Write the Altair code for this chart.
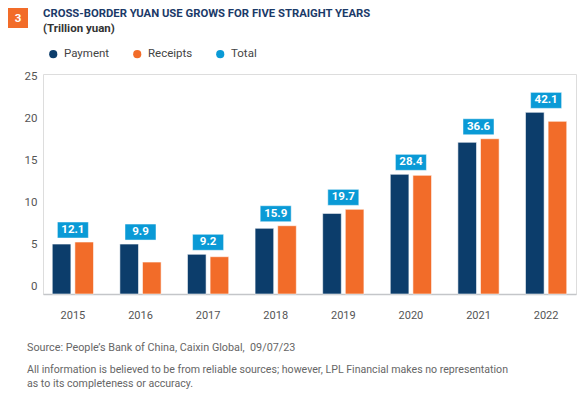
import altair as alt
import pandas as pd

years = ["2015", "2016", "2017", "2018", "2019", "2020", "2021", "2022"]
payment = [5.95, 5.95, 4.73, 7.82, 9.6, 14.25, 18.06, 21.63]
receipts = [6.19, 3.8, 4.44, 8.13, 10.08, 14.13, 18.49, 20.56]
totals = [12.1, 9.9, 9.2, 15.9, 19.7, 28.4, 36.6, 42.1]
series_names = ["Payment", "Receipts", "Total"]
series_colors = ["#0c3d6b", "#f26c29", "#0a9ad6"]
y_ticks = [0, 5, 10, 15, 20, 25]

title_text = "CROSS-BORDER YUAN USE GROWS FOR FIVE STRAIGHT YEARS"
subtitle_text = "(Trillion yuan)"
source_text = "Source: People\u2019s Bank of China, Caixin Global, \u00a009/07/23"
footer_lines = [
    "All information is believed to be from reliable sources; however, LPL Financial makes no representation",
    "as to its completeness or accuracy.",
]
badge_text = "3"

FONT = "Roboto"

rows = []
for i, yr in enumerate(years):
    rows.append({"year": yr, "series": "Payment", "value": payment[i]})
    rows.append({"year": yr, "series": "Receipts", "value": receipts[i]})
df = pd.DataFrame(rows)

df_tot = pd.DataFrame({
    "year": years,
    "total": totals,
    "top": [max(p, r) for p, r in zip(payment, receipts)],
    "series": ["Total"] * len(years),
})

color_scale = alt.Scale(domain=series_names, range=series_colors)

x_enc = alt.X(
    "year:N",
    sort=years,
    scale=alt.Scale(paddingInner=0.39, paddingOuter=0.137),
    axis=alt.Axis(title=None, labelAngle=0, domain=True, domainColor="#c4c6c9",
                  domainWidth=1.5, ticks=False, labelPadding=15, labelFontSize=11,
                  labelColor="#555555", labelFont=FONT),
)
y_scale = alt.Scale(domain=[0, 26.2], nice=False, zero=True)

bars = alt.Chart(df).mark_bar(stroke="white", strokeWidth=0.8, strokeOpacity=0.7).encode(
    x=x_enc,
    xOffset=alt.XOffset("series:N", sort=["Payment", "Receipts"],
                        scale=alt.Scale(paddingInner=0.177, paddingOuter=0)),
    y=alt.Y("value:Q", scale=y_scale,
            axis=alt.Axis(title=None, values=y_ticks, grid=False, domain=False, ticks=False,
                          labelPadding=6, labelOffset=-8, labelFontSize=11.5,
                          labelColor="#555555", labelFont=FONT)),
    color=alt.Color("series:N", scale=color_scale,
                    legend=alt.Legend(orient="none", legendX=4.5, legendY=-26,
                                      direction="horizontal", title=None,
                                      symbolType="circle", symbolSize=66,
                                      symbolStrokeWidth=0, labelFontSize=11.5,
                                      labelColor="#444444", labelFont=FONT,
                                      columnPadding=22, labelOffset=5, padding=0)),
)

boxes = alt.Chart(df_tot).mark_bar(width=31, yOffset=-20, y2Offset=-4,
                                   stroke="white", strokeWidth=0.8, strokeOpacity=0.6).encode(
    x=alt.X("year:N", sort=years),
    y=alt.Y("top:Q", scale=y_scale),
    y2="top:Q",
    color=alt.Color("series:N", scale=color_scale),
)

box_text = alt.Chart(df_tot).mark_text(color="white", fontSize=11.5, fontWeight="bold",
                                       dy=-12, baseline="middle", font=FONT).encode(
    x=alt.X("year:N", sort=years),
    y=alt.Y("top:Q", scale=y_scale),
    text=alt.Text("total:Q", format=".1f"),
)

def label(text, x, y, size, color, weight="normal", align="left"):
    return alt.Chart(pd.DataFrame({"t": [text]})).mark_text(
        align=align, baseline="middle", fontSize=size, color=color,
        fontWeight=weight, font=FONT,
    ).encode(x=alt.value(x), y=alt.value(y), text="t:N")

badge = alt.Chart(pd.DataFrame({"t": [badge_text]})).mark_rect(color="#f26c29").encode(
    x=alt.value(-35), x2=alt.value(-15), y=alt.value(-66), y2=alt.value(-46))

layers = [
    bars, boxes, box_text, badge,
    label(badge_text, -25, -55.5, 11.5, "white", "bold", "center"),
    label(title_text, 0, -60, 11.3, "#1b3a68", "bold"),
    label(subtitle_text, 0, -45, 11.5, "#333333", "bold"),
    label(source_text, -16, 274, 10.8, "#666666"),
    label(footer_lines[0], -16, 296, 10.6, "#666666"),
    label(footer_lines[1], -16, 310, 10.6, "#666666"),
]

chart = alt.layer(*layers).properties(
    width=533, height=220,
    padding={"left": 35, "top": 66, "right": 1, "bottom": 96},
    autosize=alt.AutoSizeParams(type="none"),
).configure_view(fill="#f2f3f5", strokeWidth=0).configure(font=FONT)

chart.save("out.html", embed_options={"renderer": "svg", "actions": False})
